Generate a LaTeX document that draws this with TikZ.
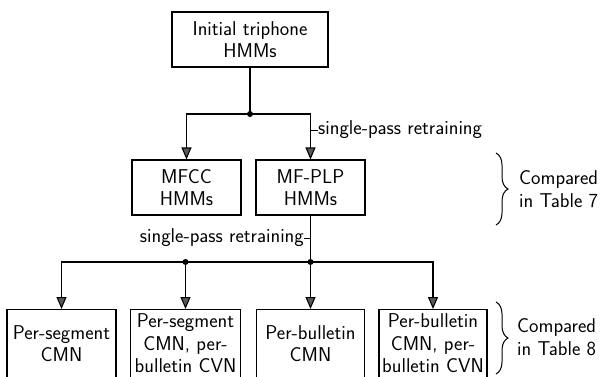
\documentclass[tikz,border=0pt]{standalone}
\usetikzlibrary{arrows.meta,decorations.pathreplacing}
\begin{document}
\begin{tikzpicture}[x=1pt,y=-1pt,
  font=\sffamily\fontsize{20}{22.5}\selectfont,
  box/.style={draw,line width=1.1pt,align=center,inner sep=0pt,minimum height=55pt},
  lowbox/.style={box,minimum height=68pt,anchor=north},
  conn/.style={line width=1.1pt},
  arr/.style={conn,-{Triangle[length=12pt,width=10pt,fill=black!65]}},
  tick/.style={line width=0.6pt},
  jdot/.style={circle,fill=black,inner sep=0pt,minimum size=6pt},
  lbl/.style={inner sep=0pt},
  br/.style={decorate,decoration={brace,amplitude=12pt},line width=1pt}]
\useasboundingbox (0,0) rectangle (602,376);
% top level
\node[box,minimum width=156pt] (init) at (250,39.5) {Initial triphone\\HMMs};
\node[box,minimum width=109pt] (mfcc) at (186.5,187.5) {MFCC\\HMMs};
\node[box,minimum width=109pt] (mfplp) at (310.5,187.5) {MF-PLP\\HMMs};
\node[jdot] (j1) at (250,114) {};
\draw[conn] (init.south) -- (j1.center);
\draw[arr] (j1.center) -| (mfcc.north);
\draw[arr] (j1.center) -| (mfplp.north);
\node[lbl,anchor=west] (l1) at (318,130) {single-pass retraining};
\draw[tick] (l1.west) -- (l1.west -| mfplp.north);
% bottom level
\node[lowbox,minimum width=109pt] (b1) at (61.5,309) {Per-segment\\CMN};
\node[lowbox,minimum width=110pt] (b2) at (185.5,309) {Per-segment\\CMN, per-\\bulletin CVN};
\node[lowbox,minimum width=108pt] (b3) at (310.5,309) {Per-bulletin\\CMN};
\node[lowbox,minimum width=108pt] (b4) at (433,309) {Per-bulletin\\CMN, per-\\bulletin CVN};
\node[jdot] (j2) at (185.5,262) {};
\node[jdot] (j3) at (310.5,262) {};
\draw[conn] (mfplp.south) -- (j3.center);
\draw[conn] (j2.center) -- (j3.center);
\draw[arr] (j2.center) -| (b1.north);
\draw[arr] (j2.center) -- (b2.north);
\draw[arr] (j3.center) -- (b3.north);
\draw[arr] (j3.center) -| (b4.north);
\node[lbl,anchor=east] (l2) at (304,238) {single-pass retraining};
\draw[tick] (l2.east) -- (l2.east -| mfplp.south);
% braces
\coordinate (t7a) at (496,153);
\coordinate (t7b) at (496,225);
\draw[br] (t7a) -- (t7b);
\node[lbl,anchor=west,align=left] (c7) at (519,189) {Compared\\in Table 7};
\coordinate (t8a) at (496,302);
\coordinate (t8b) at (496,374);
\draw[br] (t8a) -- (t8b);
\node[lbl,anchor=west,align=left] (c8) at (517,337) {Compared\\in Table 8};
\end{tikzpicture}
\end{document}
